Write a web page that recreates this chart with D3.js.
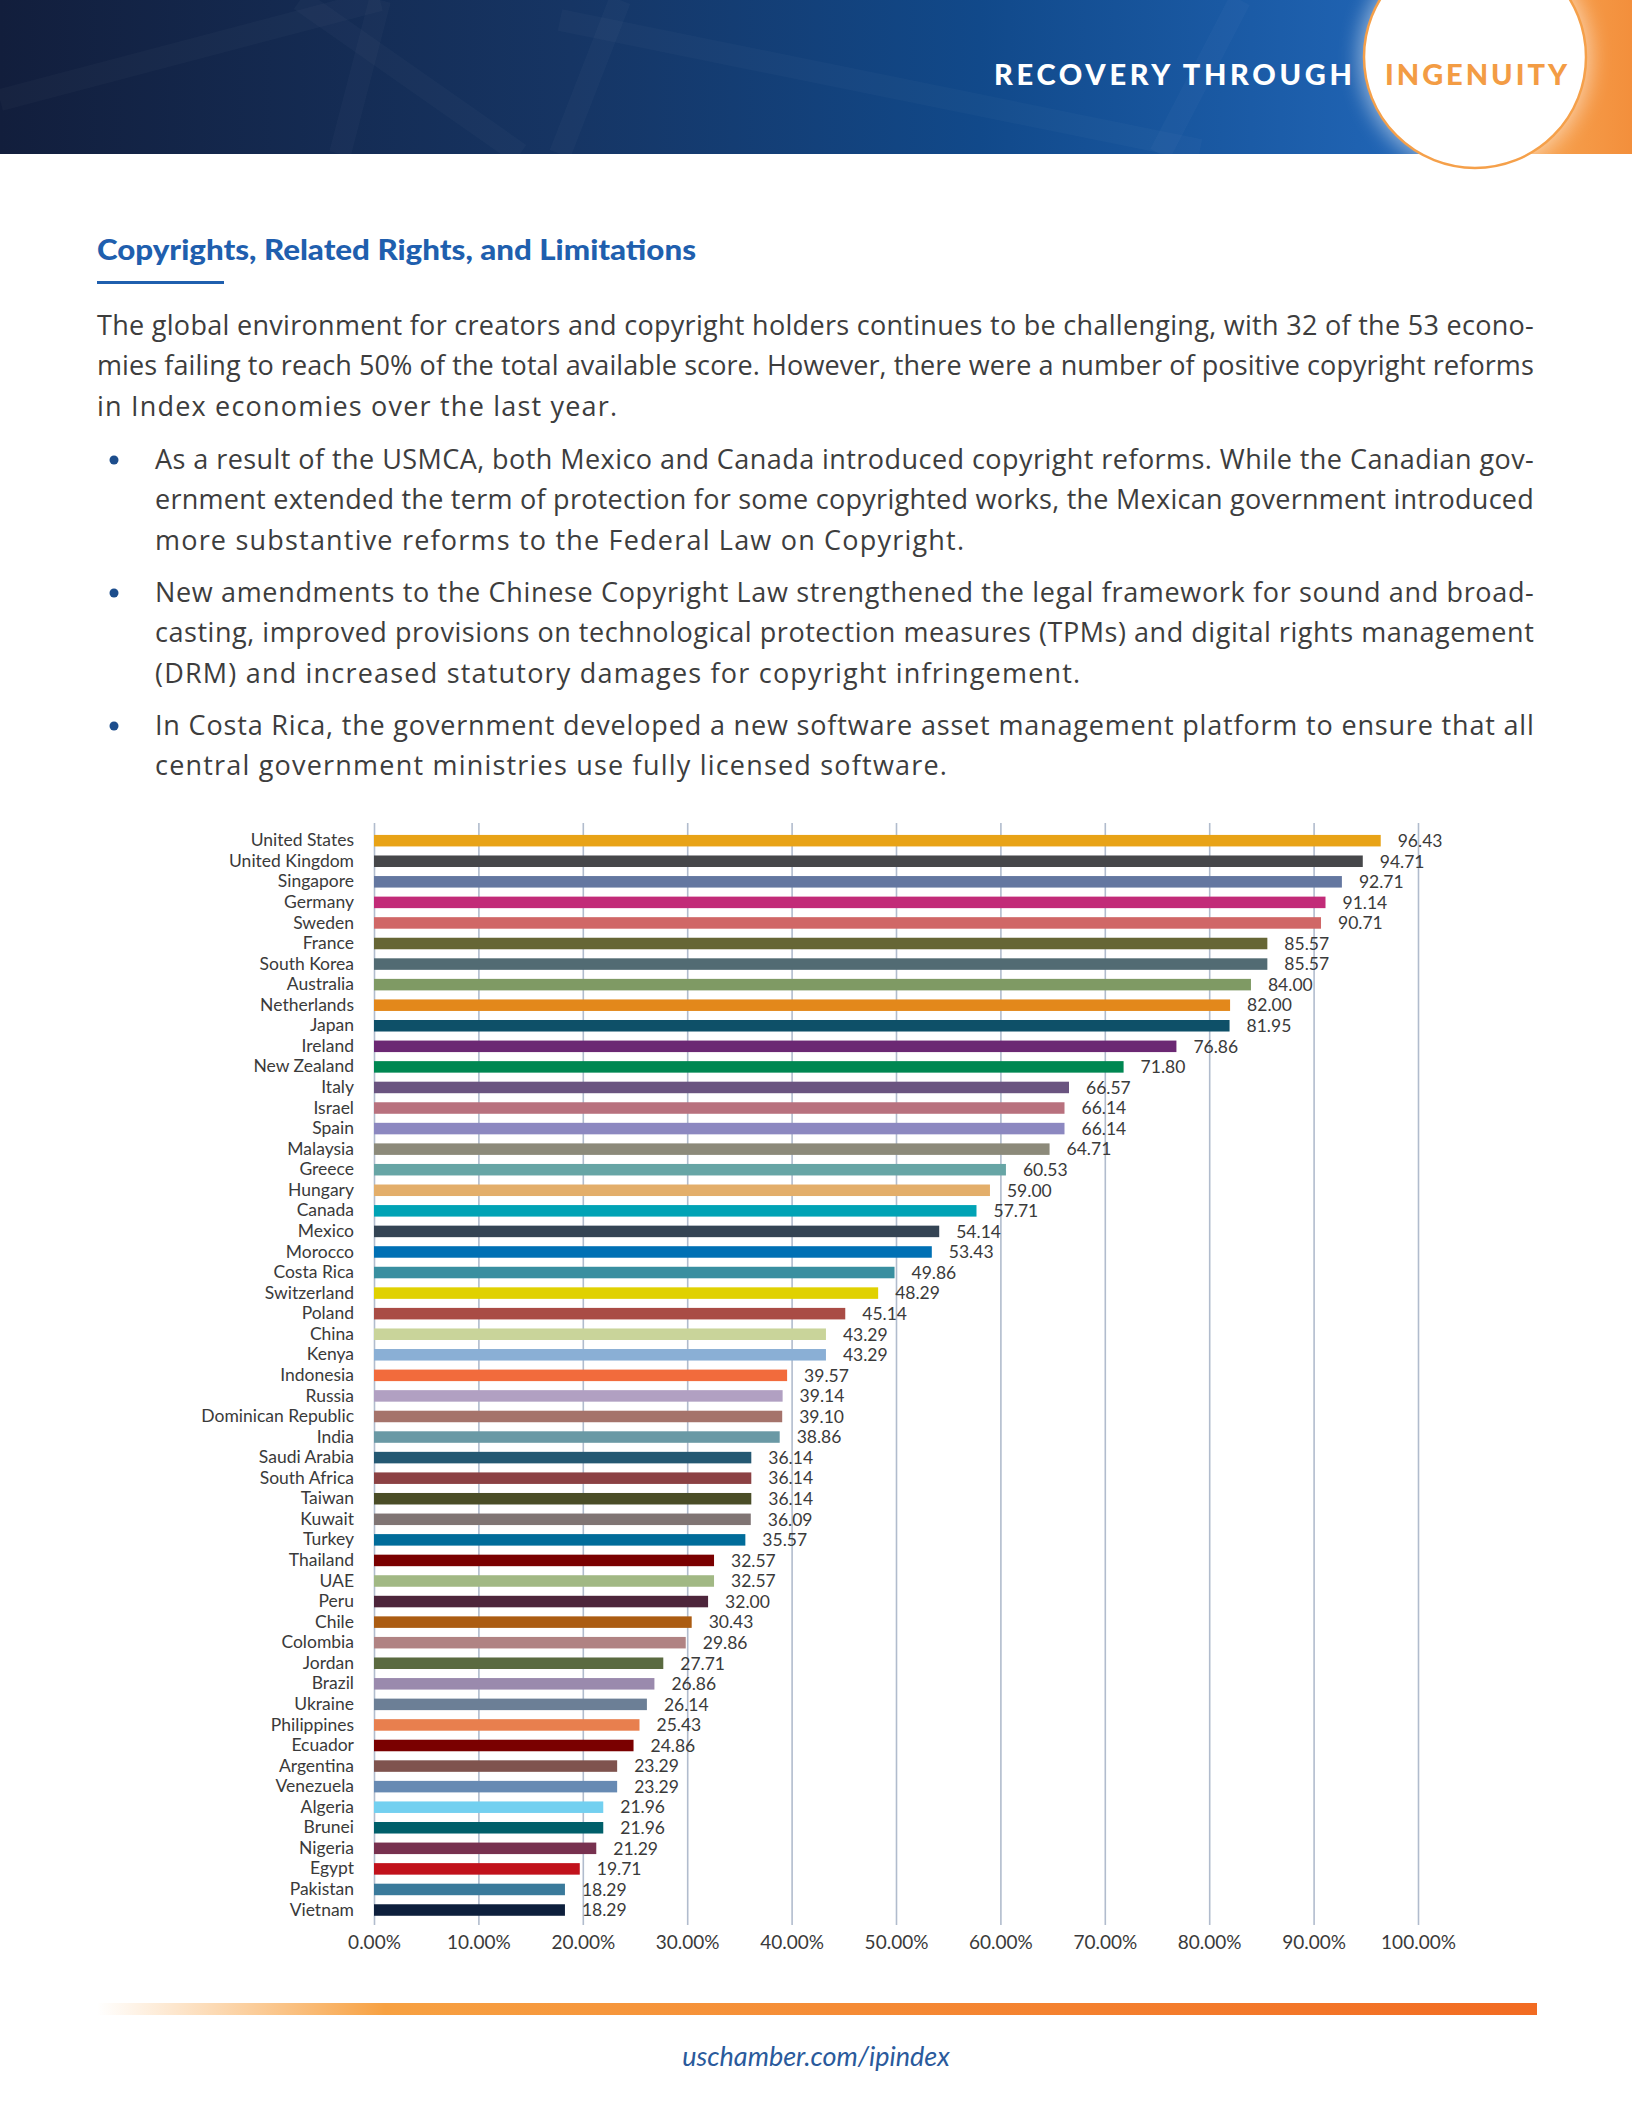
<!DOCTYPE html>
<html>
<head>
    <title>Copyrights, Related Rights, and Limitations</title>
    <style>
        body { margin: 0; background: #fff; }
        svg { font-family: 'Lato', 'Noto Sans', sans-serif; display: block; }
        .body-text { fill: #3d3d3d; font-size: 27px; letter-spacing: 1.2px; font-family: 'Open Sans', 'Noto Sans', sans-serif; }
        .tick text { fill: #3a3a3a; }
    </style>
</head>
<body>
    <div id="page"></div>

    <script src="https://d3js.org/d3.v7.min.js"></script>
    <script>
        // chart data
        const countries = ["United States", "United Kingdom", "Singapore", "Germany", "Sweden", "France",
            "South Korea", "Australia", "Netherlands", "Japan", "Ireland", "New Zealand", "Italy", "Israel",
            "Spain", "Malaysia", "Greece", "Hungary", "Canada", "Mexico", "Morocco", "Costa Rica",
            "Switzerland", "Poland", "China", "Kenya", "Indonesia", "Russia", "Dominican Republic", "India",
            "Saudi Arabia", "South Africa", "Taiwan", "Kuwait", "Turkey", "Thailand", "UAE", "Peru", "Chile",
            "Colombia", "Jordan", "Brazil", "Ukraine", "Philippines", "Ecuador", "Argentina", "Venezuela",
            "Algeria", "Brunei", "Nigeria", "Egypt", "Pakistan", "Vietnam"];
        const scores = [96.43, 94.71, 92.71, 91.14, 90.71, 85.57, 85.57, 84.00, 82.00, 81.95, 76.86, 71.80,
            66.57, 66.14, 66.14, 64.71, 60.53, 59.00, 57.71, 54.14, 53.43, 49.86, 48.29, 45.14, 43.29, 43.29,
            39.57, 39.14, 39.10, 38.86, 36.14, 36.14, 36.14, 36.09, 35.57, 32.57, 32.57, 32.00, 30.43, 29.86,
            27.71, 26.86, 26.14, 25.43, 24.86, 23.29, 23.29, 21.96, 21.96, 21.29, 19.71, 18.29, 18.29];
        const barColors = ["#e8a317", "#46474a", "#6477a0", "#c22b78", "#d06767", "#666635", "#526b73",
            "#7f9a64", "#e3881b", "#0e5068", "#6b2873", "#008752", "#6a5480", "#b8717e", "#8c88c0", "#8c8a7a",
            "#67a5a5", "#e3ae6a", "#00a3b5", "#344454", "#0070b4", "#398fa0", "#e0d100", "#a94c45", "#c9d49a",
            "#8aafd5", "#f26b3c", "#b1a0c2", "#a5736b", "#6a99a5", "#245872", "#8b4143", "#4a4d27", "#807574",
            "#006c9a", "#7a0000", "#a1b884", "#4d253b", "#ab5c12", "#b08383", "#5a6a40", "#9a8aad", "#6c7f96",
            "#e87f4e", "#7a0000", "#7f534e", "#678ab3", "#73d0f0", "#005f6a", "#77314f", "#c1121c", "#3a7a9b",
            "#0d1f3c"];
        const xTicks = [0, 10, 20, 30, 40, 50, 60, 70, 80, 90, 100];

        // page text
        const introLines = [
            "The global environment for creators and copyright holders continues to be challenging, with 32 of the 53 econo-",
            "mies failing to reach 50% of the total available score. However, there were a number of positive copyright reforms",
            "in Index economies over the last year."
        ];
        const bullets = [
            ["As a result of the USMCA, both Mexico and Canada introduced copyright reforms. While the Canadian gov-",
             "ernment extended the term of protection for some copyrighted works, the Mexican government introduced",
             "more substantive reforms to the Federal Law on Copyright."],
            ["New amendments to the Chinese Copyright Law strengthened the legal framework for sound and broad-",
             "casting, improved provisions on technological protection measures (TPMs) and digital rights management",
             "(DRM) and increased statutory damages for copyright infringement."],
            ["In Costa Rica, the government developed a new software asset management platform to ensure that all",
             "central government ministries use fully licensed software."]
        ];

        const W = 1632, H = 2112;
        const svg = d3.select("#page").append("svg")
            .attr("width", W)
            .attr("height", H);

        const defs = svg.append("defs");

        // ---- header band ----
        const hg = defs.append("linearGradient").attr("id", "hdr").attr("x1", 0).attr("x2", 1);
        hg.append("stop").attr("offset", "0%").attr("stop-color", "#121e3c");
        hg.append("stop").attr("offset", "35%").attr("stop-color", "#163564");
        hg.append("stop").attr("offset", "60%").attr("stop-color", "#11498a");
        hg.append("stop").attr("offset", "85%").attr("stop-color", "#2064b4");
        hg.append("stop").attr("offset", "100%").attr("stop-color", "#2466b4");

        const og = defs.append("linearGradient").attr("id", "orng").attr("x1", 0).attr("x2", 1);
        og.append("stop").attr("offset", "0%").attr("stop-color", "#f7a350").attr("stop-opacity", 0);
        og.append("stop").attr("offset", "35%").attr("stop-color", "#f7a350").attr("stop-opacity", 1);
        og.append("stop").attr("offset", "100%").attr("stop-color", "#f38f3c");

        const glow = defs.append("filter").attr("id", "glow").attr("x", "-30%").attr("y", "-30%")
            .attr("width", "160%").attr("height", "160%");
        glow.append("feGaussianBlur").attr("stdDeviation", 10);

        const header = svg.append("g");
        header.append("rect").attr("x", 0).attr("y", 0).attr("width", W).attr("height", 154)
            .attr("fill", "url(#hdr)");

        // faint light streaks in the header
        const streaks = [[[0, 100], [380, 0]], [[300, 0], [520, 154]], [[380, 0], [340, 154]],
                         [[620, 0], [560, 154]], [[560, 20], [1200, 150]], [[1240, 0], [1160, 154]]];
        header.selectAll("path.streak").data(streaks).join("path")
            .attr("class", "streak")
            .attr("d", d => d3.line()(d))
            .attr("stroke", "#ffffff").attr("stroke-opacity", 0.025)
            .attr("stroke-width", 22).attr("fill", "none");

        header.append("rect").attr("x", 1480).attr("y", 0).attr("width", W - 1480).attr("height", 154)
            .attr("fill", "url(#orng)");
        header.append("circle").attr("cx", 1475).attr("cy", 57).attr("r", 116)
            .attr("fill", "#ffffff").attr("opacity", 0.5).attr("filter", "url(#glow)");
        svg.append("circle").attr("cx", 1475).attr("cy", 57).attr("r", 111)
            .attr("fill", "#ffffff").attr("stroke", "#f5a04a").attr("stroke-width", 2.5);

        svg.append("text").attr("x", 994).attr("y", 85)
            .attr("textLength", 358).attr("lengthAdjust", "spacing")
            .style("font-size", "29px").style("font-weight", 900).attr("fill", "#ffffff")
            .text("RECOVERY THROUGH");
        svg.append("text").attr("x", 1385).attr("y", 85)
            .attr("textLength", 182).attr("lengthAdjust", "spacing")
            .style("font-size", "29px").style("font-weight", 900).attr("fill", "#f39c44")
            .text("INGENUITY");

        // ---- title + text ----
        svg.append("text").attr("x", 97).attr("y", 260)
            .attr("textLength", 599).attr("lengthAdjust", "spacingAndGlyphs")
            .style("font-size", "29px").style("font-weight", 900).attr("fill", "#1f5fae")
            .text("Copyrights, Related Rights, and Limitations");
        svg.append("rect").attr("x", 97).attr("y", 281).attr("width", 127).attr("height", 3)
            .attr("fill", "#1f5fae");

        const lineH = 40.3;
        const intro = svg.append("g");
        introLines.forEach((t, i) => {
            const el = intro.append("text").attr("class", "body-text")
                .attr("x", 97).attr("y", 335 + i * lineH).text(t);
            if (i < introLines.length - 1) el.attr("textLength", 1438).attr("lengthAdjust", "spacing");
        });

        const bulletTop = [469, 602, 735];
        bullets.forEach((lines, b) => {
            svg.append("circle").attr("cx", 114).attr("cy", bulletTop[b] - 9).attr("r", 4.5)
                .attr("fill", "#1c4d8c");
            lines.forEach((t, i) => {
                const el = svg.append("text").attr("class", "body-text")
                    .attr("x", 155).attr("y", bulletTop[b] + i * lineH).text(t);
                if (i < lines.length - 1) el.attr("textLength", 1380).attr("lengthAdjust", "spacing");
            });
        });

        // ---- bar chart ----
        const x = d3.scaleLinear().domain([0, 100]).range([374, 1418]);
        const y = d3.scaleBand().domain(countries).range([830.4, 1920.3])
            .paddingInner(0.44).paddingOuter(0.22);

        const gridTop = 823, gridBottom = 1925;

        const xAxis = svg.append("g")
            .attr("transform", `translate(0, ${gridBottom})`)
            .call(d3.axisBottom(x)
                .tickValues(xTicks)
                .tickSize(-(gridBottom - gridTop))
                .tickPadding(11)
                .tickFormat(d => d.toFixed(2) + "%"));
        xAxis.select(".domain").remove();
        xAxis.selectAll(".tick line").attr("stroke", "#b1bccd").attr("stroke-width", 1.6);
        xAxis.selectAll(".tick text").style("font-size", "19px").attr("font-family", "Lato, sans-serif");

        const yAxis = svg.append("g")
            .attr("transform", `translate(${x(0)}, 0)`)
            .call(d3.axisLeft(y).tickSize(0).tickPadding(20));
        yAxis.select(".domain").remove();
        yAxis.selectAll(".tick text").style("font-size", "17.5px").attr("font-family", "Lato, sans-serif");

        const barData = countries.map((c, i) => ({ c, v: scores[i], col: barColors[i] }));

        svg.append("g").selectAll("rect").data(barData).join("rect")
            .attr("x", x(0))
            .attr("y", d => y(d.c))
            .attr("width", d => x(d.v) - x(0))
            .attr("height", y.bandwidth())
            .attr("fill", d => d.col);

        svg.append("g").selectAll("text").data(barData).join("text")
            .attr("x", d => x(d.v) + 17)
            .attr("y", d => y(d.c) + y.bandwidth() / 2)
            .attr("dy", "0.36em")
            .style("font-size", "17.5px")
            .attr("fill", "#3a3a3a")
            .text(d => d.v.toFixed(2));

        // ---- footer ----
        const fg = defs.append("linearGradient").attr("id", "foot").attr("x1", 0).attr("x2", 1);
        fg.append("stop").attr("offset", "0%").attr("stop-color", "#f8a64a").attr("stop-opacity", 0);
        fg.append("stop").attr("offset", "20%").attr("stop-color", "#f7a142").attr("stop-opacity", 1);
        fg.append("stop").attr("offset", "100%").attr("stop-color", "#f26b22");
        svg.append("rect").attr("x", 97).attr("y", 2003).attr("width", 1440).attr("height", 12)
            .attr("fill", "url(#foot)");

        svg.append("text").attr("x", 816).attr("y", 2066)
            .attr("text-anchor", "middle")
            .style("font-size", "27px").style("font-style", "italic")
            .attr("fill", "#2a5a9c")
            .text("uschamber.com/ipindex");
    </script>
</body>
</html>
